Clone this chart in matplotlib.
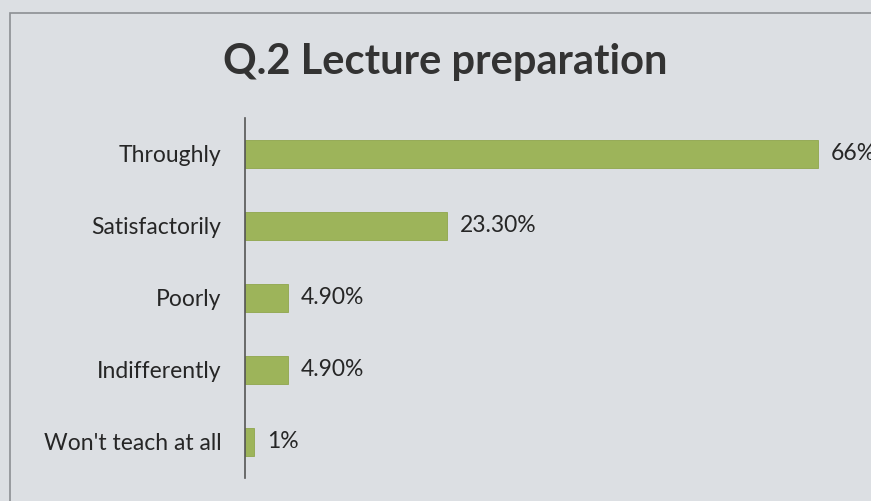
import matplotlib.pyplot as plt
from matplotlib.patches import Rectangle

categories = ['Throughly', 'Satisfactorily', 'Poorly', 'Indifferently', "Won't teach at all"]
values = [66, 23.3, 4.9, 4.9, 1]
value_labels = ['66%', '23.30%', '4.90%', '4.90%', '1%']

plt.rcParams['font.family'] = ['Lato', 'DejaVu Sans']

bg = '#dcdfe3'
bar_color = '#9db45a'
text_color = '#262626'

fig = plt.figure(figsize=(8.71, 5.01), dpi=100, facecolor=bg)

# outer frame of the printed slide
fig.patches.append(Rectangle((10 / 871, -0.1), 1.2, 1 - 13 / 501 + 0.1,
                             transform=fig.transFigure, fill=False,
                             edgecolor='#8c8f93', linewidth=1.2))

ax = fig.add_axes([245 / 871, 1 - 478 / 501, (871 - 245) / 871, 360 / 501])
ax.set_facecolor('none')

y = range(len(categories))
ax.barh(y, values, height=0.39, color=bar_color, edgecolor='#8fa64c', linewidth=0.6)

for yi, v, lab in zip(y, values, value_labels):
    ax.text(v + 1.5, yi, lab, va='center', ha='left', fontsize=16.5, color=text_color)

ax.set_xlim(0, 72.1)
ax.set_ylim(len(categories) - 0.5, -0.5)
ax.set_yticks(list(y))
ax.set_yticklabels(categories, fontsize=16.5, color=text_color)
ax.tick_params(axis='y', length=0, pad=17)
ax.set_xticks([])

for side in ['top', 'right', 'bottom']:
    ax.spines[side].set_visible(False)
ax.spines['left'].set_color('#555555')
ax.spines['left'].set_linewidth(1.2)

fig.text(445 / 871, 1 - 62 / 501, 'Q.2 Lecture preparation', ha='center', va='center',
         fontsize=30, fontweight='bold', color='#333333')

fig.savefig('out.png', dpi=100, facecolor=bg)
